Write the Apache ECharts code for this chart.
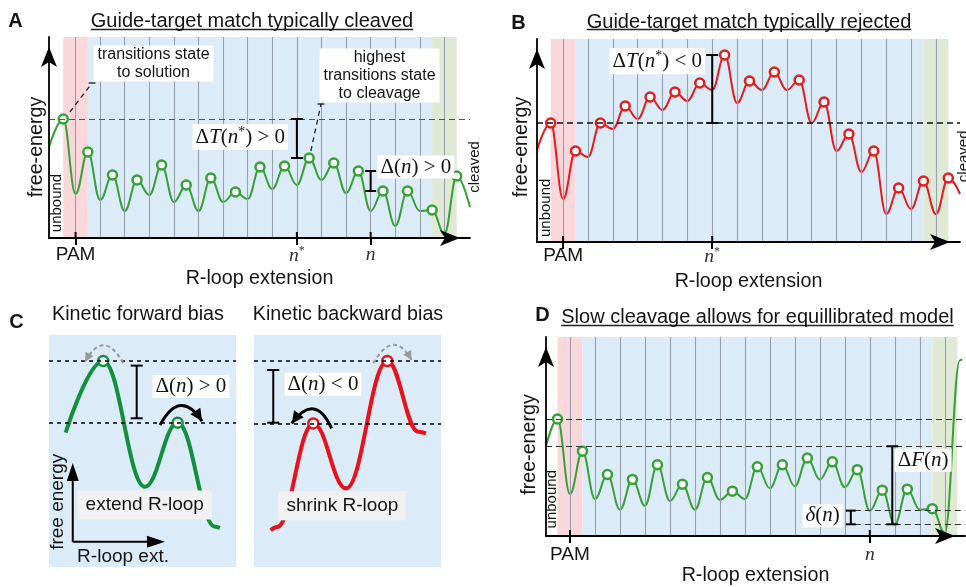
<!DOCTYPE html>
<html><head><meta charset="utf-8">
<script src="https://cdn.jsdelivr.net/npm/echarts@6/dist/echarts.min.js"></script>
<style>html,body{margin:0;padding:0;background:#fff;}#c{width:966px;height:587px;}</style>
</head><body><div id="c"></div>
<script>
// ================= DATA =================
// Panel A: free-energy landscape, guide-target match typically cleaved
const startA = [-0.58, 9.1];
const peaksA = [11.9, 8.6, 6.3, 5.8, 7.3, 5.3, 6.0, 4.6, 7.1, 7.2, 8.0, 7.5, 6.7, 4.7, 4.7, 2.8, 6.2];
const valleysA = [4.4, 3.8, 2.7, 4.3, 3.6, 2.7, 3.6, 3.9, 4.9, 5.3, 5.8, 4.5, 2.7, 1.2, 2.7, 0.4];
const tailA = [[16.54, 3.1]];
const ticksA = [0.5, 9.5, 12.5];
const tickLabelsA = ['PAM', 'n*', 'n'];

// Panel B: guide-target match typically rejected
const startB = [-0.55, 9.2];
const peaksB = [11.9, 9.1, 11.9, 13.6, 14.5, 15.0, 15.9, 18.7, 16.1, 17.0, 16.2, 14.0, 10.8, 9.1, 5.4, 6.1, 6.4];
const valleysB = [4.3, 8.5, 11.3, 12.3, 13.2, 14.1, 15.2, 13.9, 15.2, 15.2, 11.9, 9.1, 7.0, 2.8, 3.3, 2.8];
const tailB = [[16.47, 4.8]];
const ticksB = [0.5, 6.5];
const tickLabelsB = ['PAM', 'n*'];

// Panel D: slow cleavage, equilibrated model
const startD = [-0.46, 9.2];
const peaksD = [12.0, 8.7, 6.3, 5.8, 7.3, 5.3, 6.0, 4.6, 7.1, 7.3, 8.0, 7.6, 6.8, 4.7, 4.8, 2.8];
const valleysD = [4.3, 3.8, 2.7, 3.1, 3.6, 2.7, 3.7, 3.8, 4.9, 5.1, 5.8, 5.0, 2.6, 1.2, 2.7, 0.3];
const tailD = [[16.1, 18.0], [16.2, 18.1]];
const ticksD = [0.5, 12.5];
const tickLabelsD = ['PAM', 'n'];

// shared: state boundaries (vertical lines) and region edges (PAM | R-loop | cleaved)
const boundaries = [0.5, 1.5, 2.5, 3.5, 4.5, 5.5, 6.5, 7.5, 8.5, 9.5, 10.5, 11.5, 12.5, 13.5, 14.5, 15.5];
const regionEdges = [0, 1, 15, 16];

// Panel C: two small landscapes (x: R-loop ext., y: free energy, arbitrary units 0..10)
const curveCL = [[0.89, 5.79], [2.90, 8.88], [5.13, 3.46], [6.88, 6.22], [8.88, 1.74], [9.14, 1.69]];
const peakIdxCL = [1, 3];
const curveCR = [[0.89, 1.58], [1.23, 1.72], [3.17, 6.19], [4.92, 3.39], [7.13, 8.88], [8.79, 5.83], [9.20, 5.76]];
const peakIdxCR = [2, 4];

// ================= CHART =================
const FS = '"Liberation Sans", Arial, Helvetica, sans-serif';
const SERIF = '"Liberation Serif", "DejaVu Serif", serif';
const PINK = '#f9d7db', BLUE = '#dcebf8', GBG = '#dfe9d6', VL = '#96a1ad';
const GREEN = '#37a037', RED = '#e41c1f', CGREEN = '#13903d', CRED = '#ea111b';
const TXT = '#151515';
const BIG = 19.7;

function buildCurve(start, peaks, valleys, tail) {
  const pts = [start];
  for (let i = 0; i < peaks.length; i++) {
    pts.push([i, peaks[i]]);
    if (i < valleys.length) pts.push([i + 0.5, valleys[i]]);
  }
  return pts.concat(tail);
}
const curveA = buildCurve(startA, peaksA, valleysA, tailA);
const curveB = buildCurve(startB, peaksB, valleysB, tailB);
const curveD = buildCurve(startD, peaksD, valleysD, tailD);

const grids = [
  {left: 49, top: 37, width: 421, height: 201},     // A
  {left: 537, top: 39, width: 423, height: 203},    // B
  {left: 546, top: 337, width: 419, height: 204},   // D
  {left: 49, top: 335, width: 187, height: 232, show: true, backgroundColor: BLUE, borderWidth: 0},  // C left
  {left: 254, top: 335, width: 187, height: 232, show: true, backgroundColor: BLUE, borderWidth: 0}  // C right
];
const xr = [[-0.58, 16.54], [-0.55, 16.47], [-0.46, 16.31]];
const ymax = [20.1, 20.3, 20.4];
const tickSets = [[ticksA, tickLabelsA], [ticksB, tickLabelsB], [ticksD, tickLabelsD]];
const labelMargin = [7, 4, 9];
const yNameGap = [2, 5, 6];
const yNameShift = [19, 13, 16];
const xNameGap = [31, 30, 30];

const axisLineStyle = {color: '#000', width: 1.8};
const xAxes = [], yAxes = [];
for (let g = 0; g < 3; g++) {
  const [tv, tl] = tickSets[g];
  xAxes.push({
    gridIndex: g, type: 'value', min: xr[g][0], max: xr[g][1], z: 10,
    axisLine: {show: true, onZero: false, symbol: ['none', 'arrow'], symbolSize: [12, 20], symbolOffset: [0, -10], lineStyle: axisLineStyle},
    splitLine: {show: false},
    axisTick: {show: true, customValues: tv, length: 7, lineStyle: {color: '#000', width: 2}},
    axisLabel: {
      show: true, customValues: tv, margin: labelMargin[g],
      formatter: function (v) {
        let i = tv.findIndex(t => Math.abs(t - v) < 1e-6);
        const lab = tl[i];
        if (lab === 'PAM') return '{p|PAM}';
        if (lab === 'n*') return '{m|n}{s|*}';
        return '{m|' + lab + '}';
      },
      rich: {
        p: {fontSize: 19, fontFamily: FS, color: TXT},
        m: {fontSize: 19.5, fontFamily: SERIF, fontStyle: 'italic', color: '#333'},
        s: {fontSize: 12, fontFamily: SERIF, color: '#333', padding: [0, 0, 10, 0]}
      }
    },
    name: 'R-loop extension', nameLocation: 'middle', nameGap: xNameGap[g],
    nameTextStyle: {fontSize: BIG, fontFamily: FS, color: TXT}
  });
  yAxes.push({
    gridIndex: g, type: 'value', min: 0, max: ymax[g], z: 10,
    axisLine: {show: true, onZero: false, symbol: ['none', 'arrow'], symbolSize: [12, 20], symbolOffset: [0, -10], lineStyle: axisLineStyle},
    axisTick: {show: false}, axisLabel: {show: false}, splitLine: {show: false},
    name: 'free-energy', nameLocation: 'middle', nameRotate: 90, nameGap: yNameGap[g],
    nameTextStyle: {fontSize: BIG, fontFamily: FS, color: TXT, padding: [0, yNameShift[g], 0, 0]}
  });
}
for (let g = 3; g < 5; g++) {
  xAxes.push({gridIndex: g, type: 'value', min: 0, max: 10, show: false});
  yAxes.push({gridIndex: g, type: 'value', min: 0, max: 10, show: false});
}

const regionColors = [PINK, BLUE, GBG];
const regionData = [];
for (let i = 0; i < regionEdges.length - 1; i++) {
  regionData.push([{xAxis: regionEdges[i], itemStyle: {color: regionColors[i], opacity: 1}}, {xAxis: regionEdges[i + 1]}]);
}

function panelSeries(g, curve, peaks, color, dashData, dashColor, dashWidth) {
  return [
    {type: 'line', xAxisIndex: g, yAxisIndex: g, data: curve, showSymbol: false, silent: true, z: 1,
      lineStyle: {opacity: 0}, markArea: {silent: true, data: regionData}},
    {type: 'line', xAxisIndex: g, yAxisIndex: g, data: curve, showSymbol: false, silent: true, z: 2,
      lineStyle: {opacity: 0},
      markLine: {silent: true, symbol: 'none', label: {show: false}, lineStyle: {color: VL, width: 1.1, type: 'solid'},
        data: boundaries.map(v => ({xAxis: v}))}},
    {type: 'line', xAxisIndex: g, yAxisIndex: g, data: curve, smooth: 0.4, smoothMonotone: 'x', showSymbol: false, silent: true, z: 3,
      lineStyle: {color: color, width: 2},
      markLine: {silent: true, symbol: 'none', label: {show: false}, lineStyle: {color: dashColor, width: dashWidth, type: [6, 4]},
        data: dashData}},
    {type: 'scatter', xAxisIndex: g, yAxisIndex: g, data: peaks.map((v, i) => [i, v]), silent: true, z: 4,
      symbolSize: 9, itemStyle: {color: '#fff', borderColor: color, borderWidth: 2.5, opacity: 1}}
  ];
}
function cSeries(g, curve, peakIdx, color) {
  const pk = peakIdx.map(i => curve[i]);
  return [
    {type: 'line', xAxisIndex: g, yAxisIndex: g, data: curve, smooth: 0.4, smoothMonotone: 'x', showSymbol: false, silent: true, z: 3,
      lineStyle: {color: color, width: 4},
      markLine: {silent: true, symbol: 'none', label: {show: false}, lineStyle: {color: '#111', width: 1.6, type: [4, 4]},
        data: pk.map(p => ({yAxis: p[1]}))}},
    {type: 'scatter', xAxisIndex: g, yAxisIndex: g, data: pk, silent: true, z: 4,
      symbolSize: 10, itemStyle: {color: '#fff', borderColor: color, borderWidth: 2.5, opacity: 1}}
  ];
}

const series = [].concat(
  panelSeries(0, curveA, peaksA, GREEN, [{yAxis: peaksA[0]}], '#555', 1.2),
  panelSeries(1, curveB, peaksB, RED, [{yAxis: peaksB[0]}], '#111', 1.5),
  panelSeries(2, curveD, peaksD, GREEN, [
    {yAxis: peaksD[0]}, {yAxis: startD[1]},
    [{coord: [11.9, valleysD[12]]}, {coord: [xr[2][1], valleysD[12]]}],
    [{coord: [11.9, valleysD[13]]}, {coord: [xr[2][1], valleysD[13]]}]
  ], '#333', 1.2),
  cSeries(3, curveCL, peakIdxCL, CGREEN),
  cSeries(4, curveCR, peakIdxCR, CRED)
);

const chart = echarts.init(document.getElementById('c'), null, {renderer: 'canvas'});
chart.setOption({animation: false, grid: grids, xAxis: xAxes, yAxis: yAxes, series: series});

// ================= ANNOTATIONS =================
const G = [];
const P = (g, x, y) => chart.convertToPixel({gridIndex: g}, [x, y]);
function line(p1, p2, st) {
  G.push({type: 'line', silent: true, z: 100, shape: {x1: p1[0], y1: p1[1], x2: p2[0], y2: p2[1]},
    style: Object.assign({stroke: '#000', lineWidth: 2}, st || {})});
}
function ebar(g, x, y1, y2, cap) {
  const a = P(g, x, y1), b = P(g, x, y2);
  line(a, b); line([a[0] - cap / 2, a[1]], [a[0] + cap / 2, a[1]]); line([b[0] - cap / 2, b[1]], [b[0] + cap / 2, b[1]]);
}
function head(tip, from, len, wid, color) {
  const dx = tip[0] - from[0], dy = tip[1] - from[1], L = Math.hypot(dx, dy), ux = dx / L, uy = dy / L;
  const bx = tip[0] - ux * len, by = tip[1] - uy * len;
  G.push({type: 'polygon', silent: true, z: 101, shape: {points: [tip, [bx - uy * wid / 2, by + ux * wid / 2], [bx + uy * wid / 2, by - ux * wid / 2]]},
    style: {fill: color}});
}
function curveArrow(g, s, c, e, color, width, dash, hl, hw) {
  const p0 = P(g, s[0], s[1]), pc = P(g, c[0], c[1]), p1 = P(g, e[0], e[1]);
  G.push({type: 'bezierCurve', silent: true, z: 100, shape: {x1: p0[0], y1: p0[1], x2: p1[0], y2: p1[1], cpx1: pc[0], cpy1: pc[1]},
    style: {stroke: color, lineWidth: width, lineDash: dash, fill: null}});
  head(p1, pc, hl, hw, color);
}
function txt(p, text, style, el) {
  G.push(Object.assign({type: 'text', silent: true, z: 110, x: p[0], y: p[1],
    style: Object.assign({text: text, fill: TXT, fontSize: BIG, fontFamily: FS, align: 'center', verticalAlign: 'middle'}, style || {})}, el || {}));
}
const measure = (() => { const c = document.createElement('canvas').getContext('2d'); return (t, f) => { c.font = f; return c.measureText(t).width; }; })();
function title(x, y, text, size, uy) {
  txt([x, y], text, {fontSize: size});
  const w = measure(text, size + 'px ' + FS);
  line([x - w / 2, uy], [x + w / 2, uy], {lineWidth: 1.3, stroke: '#222'});
}
const MR = {
  u: {fontFamily: SERIF, fontSize: 21, fill: TXT},
  i: {fontFamily: SERIF, fontSize: 21, fontStyle: 'italic', fill: TXT},
  s: {fontFamily: SERIF, fontSize: 14, fill: TXT, padding: [0, 0, 10, 0]}
};
function math(p, text, align) {
  txt(p, text, {rich: MR, align: align || 'center', backgroundColor: '#fff', padding: [1, 3]});
}

// panel letters & titles
txt([15.5, 21], 'A', {fontSize: 20, fontWeight: 'bold'});
txt([518.5, 23], 'B', {fontSize: 20, fontWeight: 'bold'});
txt([16.5, 322], 'C', {fontSize: 20, fontWeight: 'bold'});
txt([542.5, 315], 'D', {fontSize: 20, fontWeight: 'bold'});
title(252, 21.5, 'Guide-target match typically cleaved', 20, 29.5);
title(749, 22, 'Guide-target match typically rejected', 20, 29.5);
title(757.5, 317, 'Slow cleavage allows for equillibrated model', 20, 325.5);
txt([138, 315], 'Kinetic forward bias', {fontSize: BIG});
txt([348, 315], 'Kinetic backward bias', {fontSize: BIG});

// inner half of the x-axis ticks
[[0, ticksA], [1, ticksB], [2, ticksD]].forEach(([g, tv]) => tv.forEach(t => {
  const p = P(g, t, 0); line(p, [p[0], p[1] - 6]);
}));

// unbound / cleaved labels
txt(P(0, -0.26, 3.5), 'unbound', {fontSize: 15}, {rotation: Math.PI / 2});
txt(P(1, -0.21, 3.42), 'unbound', {fontSize: 15}, {rotation: Math.PI / 2});
txt(P(2, -0.22, 3.77), 'unbound', {fontSize: 15}, {rotation: Math.PI / 2});
txt(P(0, 16.74, 7.1), 'cleaved', {fontSize: 15}, {rotation: Math.PI / 2});
txt(P(1, 16.62, 8.57), 'cleaved', {fontSize: 15}, {rotation: Math.PI / 2});

// Panel A annotations
ebar(0, 9.5, peaksA[0], peaksA[10], 12);
math(P(0, 9.14, 10.1), '{u|Δ}{i|T}{u|(}{i|n}{s|*}{u|) > 0}', 'right');
ebar(0, 12.5, peaksA[12], peaksA[13], 11);
math(P(0, 12.78, 7.1), '{u|Δ(}{i|n}{u|) > 0}', 'left');
txt(P(0, 3.67, 17.45), 'transitions state\nto solution', {fontSize: 16, lineHeight: 18, backgroundColor: '#fff', padding: [0, 4]});
txt(P(0, 12.86, 16.25), 'highest\ntransitions state\nto cleavage', {fontSize: 16, lineHeight: 18, backgroundColor: '#fff', padding: [0, 4]});
function pointer(g, a, b) {
  const p0 = P(g, a[0], a[1]), p1 = P(g, b[0], b[1]);
  line(p0, p1, {lineWidth: 1.3, lineDash: [5, 4], stroke: '#222'});
  line([p1[0] - 3.5, p1[1]], [p1[0] + 3.5, p1[1]], {lineWidth: 1.3, stroke: '#222'});
}
pointer(0, [0.27, 12.6], [1.17, 15.5]);
pointer(0, [10.07, 8.7], [10.48, 13.4]);

// Panel B annotations
ebar(1, 6.5, peaksB[0], peaksB[7], 12);
math(P(1, 6.21, 18.07), '{u|Δ}{i|T}{u|(}{i|n}{s|*}{u|) < 0}', 'right');

// Panel D annotations
ebar(2, 13.4, startD[1], valleysD[13], 12);
math(P(2, 13.5, 7.77), '{u|Δ}{i|F}{u|(}{i|n}{u|)}', 'left');
ebar(2, 11.74, valleysD[12], valleysD[13], 10);
math(P(2, 11.42, 2.07), '{i|δ}{u|(}{i|n}{u|)}', 'right');

// Panel C annotations
ebar(3, 4.69, 8.68, 6.41, 12);
math(P(3, 7.59, 7.78), '{u|Δ(}{i|n}{u|) > 0}');
ebar(4, 1.03, 8.49, 6.22, 12);
math(P(4, 3.69, 7.88), '{u|Δ(}{i|n}{u|) < 0}');
curveArrow(3, [5.94, 6.12], [7.01, 7.72], [8.18, 6.29], '#000', 3, null, 12, 12);
curveArrow(3, [3.97, 8.78], [2.94, 10.3], [1.93, 8.85], '#999', 2, [4, 3], 9, 9);
curveArrow(4, [4.15, 5.98], [3.26, 7.54], [2.02, 6.19], '#000', 3, null, 12, 12);
curveArrow(4, [6.38, 8.78], [7.45, 10.3], [8.43, 8.92], '#999', 2, [4, 3], 9, 9);
txt(P(3, 5.12, 2.67), 'extend R-loop', {fontSize: 19, backgroundColor: '#f1f1f1', padding: [5, 8]});
txt(P(4, 4.73, 2.64), 'shrink R-loop', {fontSize: 19, backgroundColor: '#f1f1f1', padding: [5, 8]});
// small axes inside C left
const o = P(3, 1.27, 1.09), t1 = P(3, 1.27, 4.48), t2 = P(3, 6.2, 1.09);
line(o, [t1[0], t1[1] + 14]); line(o, [t2[0] - 14, t2[1]]);
head(t1, o, 18, 12, '#000'); head(t2, o, 18, 12, '#000');
txt(P(3, 0.48, 2.81), 'free energy', {fontSize: 19}, {rotation: Math.PI / 2});
txt(P(3, 3.96, 0.44), 'R-loop ext.', {fontSize: 19});

chart.setOption({graphic: {elements: G}});
</script></body></html>
